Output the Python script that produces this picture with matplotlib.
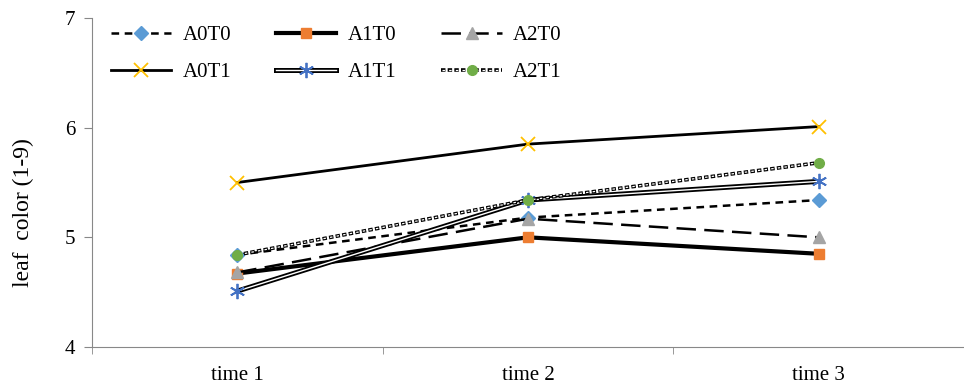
import numpy as np
import matplotlib
matplotlib.use("Agg")
import matplotlib.pyplot as plt
from matplotlib.legend_handler import HandlerTuple

plt.rcParams['font.family'] = ['Liberation Serif', 'DejaVu Serif']
plt.rcParams['lines.scale_dashes'] = False

times = ["time 1", "time 2", "time 3"]
a0t0 = [4.84, 5.18, 5.34]
a1t0 = [4.67, 5.00, 4.85]
a2t0 = [4.68, 5.17, 5.00]
a0t1 = [5.50, 5.85, 6.01]
a1t1 = [4.51, 5.34, 5.51]
a2t1 = [4.84, 5.34, 5.68]

fig = plt.figure(figsize=(9.64, 3.85), dpi=100)
ax = fig.add_axes([92/964, 1 - 347/385, 872/964, (347-18)/385])
x = np.arange(len(times))

l1, = ax.plot(x, a0t0, color='k', lw=1.8, ls=(0, (5.5, 4)), marker='D', ms=7,
              mfc='#5B9BD5', mec='#5B9BD5', label='A0T0')
l2, = ax.plot(x, a1t0, color='k', lw=3, marker='s', ms=7,
              mfc='#ED7D31', mec='#ED7D31', label='A1T0')
l3, = ax.plot(x, a2t0, color='k', lw=1.8, ls=(0, (14, 6)), marker='^', ms=9,
              mfc='#A5A5A5', mec='#A5A5A5', label='A2T0')
l4, = ax.plot(x, a0t1, color='k', lw=2, marker='x', ms=10, mew=1.3,
              mfc='#FFC000', mec='#FFC000', label='A0T1')
# double lines: black under, white on top
l5b, = ax.plot(x, a1t1, color='k', lw=3.6)
l5, = ax.plot(x, a1t1, color='white', lw=1, marker=(6, 2, 0), ms=11, mew=1.3,
              mfc='#4472C4', mec='#4472C4', label='A1T1')
l6b, = ax.plot(x, a2t1, color='k', lw=2.6, ls=(0, (3.2, 1.6)))
l6, = ax.plot(x, a2t1, color='white', lw=0.9, ls=(-0.7, (1.8, 3.0)), marker='o', ms=7,
              mfc='#70AD47', mec='#70AD47', label='A2T1')

ax.set_xlim(-0.5, -0.5 + 872/293)
ax.set_ylim(4, 7)
ax.set_yticks([4, 5, 6, 7])
ax.set_xticks(x)
ax.set_xticklabels(times, fontsize=15)
ax.set_xticks([-0.5, 0.5, 1.5, 2.5], minor=True)
ax.tick_params(axis='x', which='major', length=0, pad=14)
ax.tick_params(axis='x', which='minor', length=5, color='#888888', direction='out')
ax.tick_params(axis='y', length=6, color='#888888', labelsize=15, pad=6)
ax.set_ylabel("leaf  color (1-9)", fontsize=17)
ax.yaxis.set_label_coords(-0.066, 0.41)
for s in ['top', 'right']:
    ax.spines[s].set_visible(False)
for s in ['left', 'bottom']:
    ax.spines[s].set_color('#888888')

handles = [l1, l4, l2, (l5b, l5), l3, (l6b, l6)]
labels = ['A0T0', 'A0T1', 'A1T0', 'A1T1', 'A2T0', 'A2T1']
ax.legend(handles=handles, labels=labels, ncol=3,
          handler_map={tuple: HandlerTuple(ndivide=1, pad=0)},
          loc='upper left', bbox_to_anchor=(0.0, 1.035), frameon=False,
          fontsize=15, handlelength=2.9, columnspacing=2.15, labelspacing=0.85,
          handletextpad=0.55)

fig.savefig("out.png", dpi=100)
